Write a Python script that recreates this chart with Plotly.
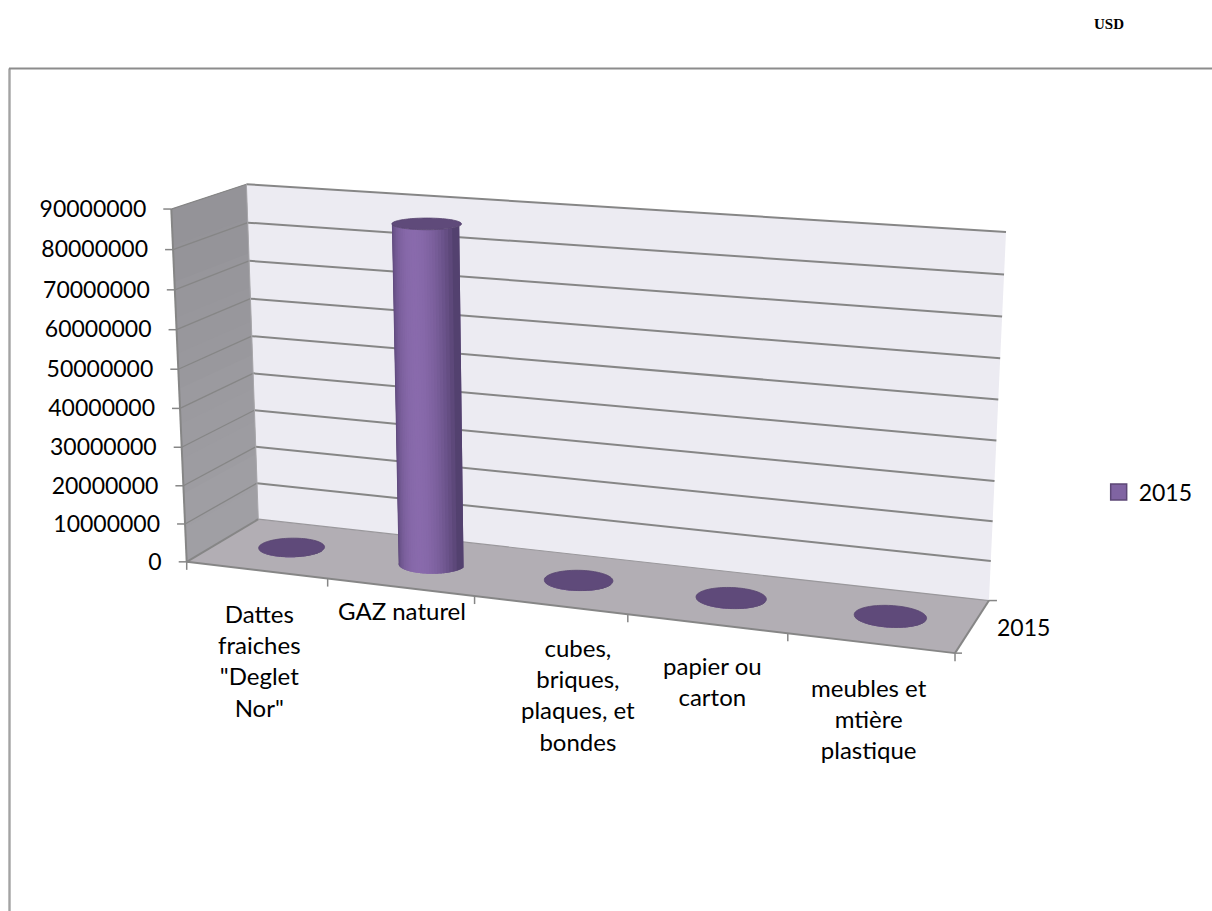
import numpy as np
import plotly.graph_objects as go

# ---- data ----
categories = ['Dattes<br>fraiches<br>"Deglet<br>Nor"', "GAZ naturel",
              "cubes,<br>briques,<br>plaques, et<br>bondes", "papier ou<br>carton",
              "meubles et<br>mtière<br>plastique"]
values_2015 = [100000, 86700000, 120000, 100000, 90000]
value_ticks = [0, 10000000, 20000000, 30000000, 40000000, 50000000, 60000000, 70000000, 80000000, 90000000]
series_name = "2015"
unit_label = "USD"

# ---- view of the 3D box: (along categories, depth, height) -> page ----
VMAX = value_ticks[-1]
box = [((0, 0, 0), (187, 562)), ((0, 0, 1), (171, 209)), ((0, 1, 1), (246.7, 184.3)),
       ((0, 1, 0), (258, 519)), ((1, 1, 0), (989, 600.7)), ((1, 1, 1), (1006, 232)),
       ((1, 0, 0), (955, 653))]
A, b = [], []
for (u, d, h), (x, y) in box:
    A.append([u, d, h, 1, 0, 0, 0, 0, -x*u, -x*d, -x*h]); b.append(x)
    A.append([0, 0, 0, 0, u, d, h, 1, -y*u, -y*d, -y*h]); b.append(y)
P = np.linalg.lstsq(np.array(A, float), np.array(b, float), rcond=None)[0]


def proj(u, d, h):
    u, d, h = np.asarray(u, float), np.asarray(d, float), np.asarray(h, float)
    w = P[8]*u + P[9]*d + P[10]*h + 1
    return (P[0]*u + P[1]*d + P[2]*h + P[3])/w, (P[4]*u + P[5]*d + P[6]*h + P[7])/w


FONT = "Lato"
FS = 23
fig = go.Figure()


def raw_poly(xs, ys, color, lw=0.0, line=None):
    xs, ys = [float(v) for v in xs], [float(v) for v in ys]
    fig.add_trace(go.Scatter(x=xs + xs[:1], y=ys + ys[:1], mode="lines", fill="toself", fillcolor=color,
                             line=dict(color=line or color, width=lw, simplify=False),
                             hoverinfo="skip", showlegend=False))


def poly(pts, color):
    raw_poly([proj(*p)[0] for p in pts], [proj(*p)[1] for p in pts], color)


def segs(pairs, color, lw):
    xs, ys = [], []
    for (a, b_) in pairs:
        xs += [float(a[0]), float(b_[0]), None]
        ys += [float(a[1]), float(b_[1]), None]
    fig.add_trace(go.Scatter(x=xs, y=ys, mode="lines", line=dict(color=color, width=lw, simplify=False),
                             hoverinfo="skip", showlegend=False))


def mix(c1, c2, t):
    return "rgb(%d,%d,%d)" % tuple(round(a + (b_ - a)*t) for a, b_ in zip(c1, c2))


# walls; gradient bands overlap the next band so no seams show
poly([(0, 1, 0), (1, 1, 0), (1, 1, 1), (0, 1, 1)], "#ecebf2")
n = 10
for i in range(n):
    top = min((i + 2)/n, 1)
    poly([(0, 0, i/n), (0, 1, i/n), (0, 1, top), (0, 0, top)], mix((160, 159, 164), (148, 147, 152), i/(n-1)))
poly([(0, 0, 0), (1, 0, 0), (1, 1, 0), (0, 1, 0)], "#b2aeb4")

# gridlines
GRID = "#868686"
hs = [v/VMAX for v in value_ticks]
segs([(proj(0, 1, h), proj(1, 1, h)) for h in hs[1:]], GRID, 2)
segs([(proj(0, 0, h), proj(0, 1, h)) for h in hs[1:]], GRID, 1.3)
segs([(proj(0, 1, 0), proj(1, 1, 0))], "#9a989c", 1.2)
segs([(proj(0, 0, 0), proj(1, 0, 0)), (proj(1, 0, 0), proj(1, 1, 0)), (proj(0, 0, 0), proj(0, 1, 0)),
      (proj(0, 0, 0), proj(0, 0, 1))], GRID, 2)
segs([(proj(0, 1, 1), proj(0, 1, 0))], "#a8a7ab", 1)

# ticks
ticks = []
for h in hs:
    x, y = proj(0, 0, h)
    ticks.append(((x - 8, y), (x, y)))
for i in range(len(categories) + 1):
    x, y = proj(i/len(categories), 0, 0)
    ticks.append(((x, y), (x, y + 8)))
x, y = proj(1, 0, 0)
ticks.append(((x, y), (x + 7, y)))
x, y = proj(1, 1, 0)
ticks.append(((x, y), (x + 8, y)))
segs(ticks, GRID, 1.5)

# cylinders
RU, RD = 0.0435, 0.2
DARK, LIGHT = (76, 59, 103), (137, 106, 172)
TOP = "#5f4a7a"
NS = 28
for i, v in enumerate(values_2015):
    cu = (i + 0.5)/len(categories)
    h = v/VMAX
    th = np.linspace(0, 2*np.pi, 90)
    # equal-width strips, each overlapping the next one so no seams show
    cs = np.linspace(-1, 1, NS + 1)
    step = cs[1] - cs[0]
    for c0, c1 in zip(cs[:-1], cs[1:]):
        arc = np.linspace(np.arccos(min(c0 + 2*step, 1)), np.arccos(c0), 8)
        x0, y0 = proj(cu + RU*np.cos(arc), 0.5 - RD*np.sin(arc), 0*arc)
        x1, y1 = proj(cu + RU*np.cos(arc), 0.5 - RD*np.sin(arc), h + 0*arc)
        t = np.sin(np.arccos((c0 + c1)/2))**1.6
        raw_poly(np.r_[x0, x1[::-1]], np.r_[y0, y1[::-1]], mix(DARK, LIGHT, t))
    tx, ty = proj(cu + RU*np.cos(th), 0.5 - RD*np.sin(th), h + 0*th)
    raw_poly(tx, ty, TOP, lw=0.8, line="#584570")

# value tick labels
lx, ly = proj(0*np.array(hs), 0*np.array(hs), np.array(hs))
fig.add_trace(go.Scatter(x=lx - 25, y=ly + 2, mode="text", text=[str(v) for v in value_ticks],
                         textposition="middle left", textfont=dict(family=FONT, size=FS, color="black"),
                         hoverinfo="skip", showlegend=False))

# category labels (top-anchored below the front edge)
cat_pos = [(259, 597), (402, 594), (578, 631), (712, 649), (869, 671)]
annotations = []
for c, (x, y) in zip(categories, cat_pos):
    annotations.append(dict(x=x, y=y, text=c, showarrow=False, xanchor="center", yanchor="top", align="center",
                            font=dict(family=FONT, size=24, color="black"), xref="x", yref="y"))
annotations.append(dict(x=1023, y=627, text=series_name, showarrow=False, font=dict(family=FONT, size=FS, color="black"),
                        xref="x", yref="y"))
annotations.append(dict(x=1109, y=24, text="<b>%s</b>" % unit_label, showarrow=False,
                        font=dict(family="Liberation Serif", size=15, color="black"), xref="x", yref="y"))

# legend
fig.add_trace(go.Scatter(x=[None], y=[None], mode="markers", name=series_name,
                         marker=dict(symbol="square", size=16, color="#8064a2", line=dict(color="#5c4776", width=1.5))))

# page frame
segs([((9.5, 911), (9.5, 68.5))], "#a3a3a3", 2.4)
segs([((9, 68.5), (1212, 68.5))], "#8c8c8c", 1.8)

fig.update_layout(
    width=1212, height=911, margin=dict(l=0, r=0, t=0, b=0), paper_bgcolor="white", plot_bgcolor="white",
    xaxis=dict(range=[0, 1212], visible=False, fixedrange=True),
    yaxis=dict(range=[911, 0], visible=False, fixedrange=True),
    annotations=annotations, showlegend=True,
    legend=dict(x=0.9065, y=1-492/911, xanchor="left", yanchor="middle", bgcolor="rgba(0,0,0,0)",
                font=dict(family=FONT, size=FS, color="black"), itemwidth=30),
)
fig.write_html("out.html", config=dict(displayModeBar=False), post_script="document.body.style.margin='0';")
